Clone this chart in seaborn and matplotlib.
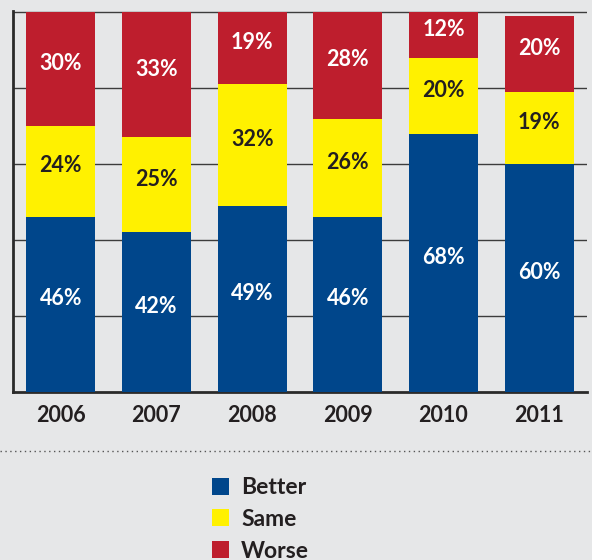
import matplotlib
matplotlib.use("Agg")
import matplotlib.pyplot as plt
from matplotlib.patches import Rectangle
import pandas as pd
import seaborn as sns

years = ["2006", "2007", "2008", "2009", "2010", "2011"]
better = [46, 42, 49, 46, 68, 60]
same = [24, 25, 32, 26, 20, 19]
worse = [30, 33, 19, 28, 12, 20]
series_names = ["Better", "Same", "Worse"]

BG = "#e6e7e8"
BLUE = "#00468b"
YELLOW = "#fff100"
RED = "#be1e2d"
DARK = "#231f20"
FONT = ["Lato", "DejaVu Sans"]

sns.set_theme(style="white")
plt.rcParams["font.family"] = FONT

df = pd.DataFrame({"year": years, "better": better, "same": same, "worse": worse})
df["cum_same"] = df["better"] + df["same"]
df["cum_worse"] = df["cum_same"] + df["worse"]

W, H = 592, 560
fig = plt.figure(figsize=(W / 100, H / 100), dpi=100, facecolor=BG)
ax = fig.add_axes([13 / W, 1 - 392 / H, 574 / W, 381 / H])
ax.set_facecolor(BG)

# stacked bars drawn as cumulative totals, back to front
for col, color in [("cum_worse", RED), ("cum_same", YELLOW), ("better", BLUE)]:
    sns.barplot(data=df, x="year", y=col, color=color, width=0.72,
                saturation=1, ax=ax, zorder=3, linewidth=0)

# segment labels
for i in range(len(years)):
    segs = [
        (0, better[i], "white"),
        (better[i], better[i] + same[i], DARK),
        (better[i] + same[i], better[i] + same[i] + worse[i], "white"),
    ]
    for lo, hi, tc in segs:
        ax.text(i, (lo + hi) / 2 + 1.5, f"{hi - lo}%", ha="center", va="center",
                color=tc, fontsize=15.5, fontweight="bold", zorder=5)

ax.set_ylim(0, 100.3)
ax.set_xlim(-0.5, len(years) - 0.5)
ax.set_yticks([20, 40, 60, 80, 100])
ax.set_yticklabels([])
ax.tick_params(axis="y", length=0)
ax.tick_params(axis="x", length=0, pad=9, labelsize=15.5, labelcolor=DARK)
for lbl in ax.get_xticklabels():
    lbl.set_fontweight("bold")
ax.yaxis.grid(True, color="#3c3c3c", linewidth=1.0, zorder=0)
ax.set_axisbelow(True)
ax.set_xlabel("")
ax.set_ylabel("")
for side in ["top", "right"]:
    ax.spines[side].set_visible(False)
for side in ["left", "bottom"]:
    ax.spines[side].set_color("#2a2a2a")
    ax.spines[side].set_linewidth(2.0)

# dotted separator above the legend
fig.add_artist(plt.Line2D([0, 1], [1 - 451 / H] * 2, transform=fig.transFigure,
                          color="#555555", linewidth=1.0, linestyle=(0, (1, 2.5))))

# legend: colour squares with bold labels
for k, (name, color) in enumerate(zip(series_names, [BLUE, YELLOW, RED])):
    yc = 486 + k * 31.5
    fig.add_artist(Rectangle((212 / W, 1 - (yc + 8.5) / H), 17 / W, 17 / H,
                             transform=fig.transFigure, facecolor=color,
                             edgecolor="none"))
    fig.text(241 / W, 1 - yc / H, name, ha="left", va="center_baseline",
             fontsize=16.5, fontweight="bold", color=DARK)

fig.savefig("out.png", dpi=100, facecolor=BG)
